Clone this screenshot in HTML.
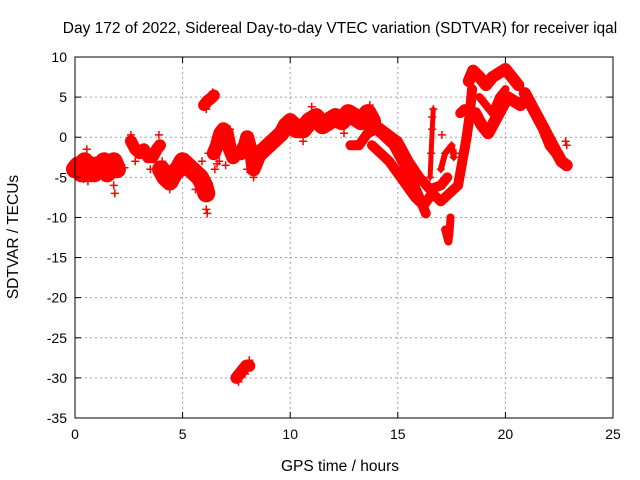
<!DOCTYPE html>
<html><head><meta charset="utf-8"><style>
body{margin:0;background:#fff}
svg{display:block;font-family:"Liberation Sans",sans-serif}
</style></head><body>
<svg id="chart" width="640" height="480">
<text x="340" y="33" font-size="15.5" text-anchor="middle">Day 172 of 2022, Sidereal Day-to-day VTEC variation (SDTVAR) for receiver iqal</text>
<text x="340" y="471" font-size="15.5" text-anchor="middle">GPS time / hours</text>
<text x="18" y="237" font-size="15.5" text-anchor="middle" transform="rotate(-90 18 237)">SDTVAR / TECUs</text>
<g id="grid"></g><g id="marks"></g><g id="axes"></g>
</svg>
<script>
const xTicks=[0,5,10,15,20,25];
const yTicks=[10,5,0,-5,-10,-15,-20,-25,-30,-35];
// segments: hours and values
const s1h=[0,0.15,0.3,0.45,0.6,0.75,0.9,1.05,1.2,1.35,1.5,1.65,1.8,1.95], s1v=[-4,-3.5,-4.5,-3,-4,-3.5,-4.5,-3.5,-4,-3,-4.5,-3.5,-3,-4];
const s2h=[2.6,2.8,3.0,3.2,3.4,3.6,3.8,3.95], s2v=[-0.5,-1.5,-2,-1.5,-2.5,-2.5,-1.5,-1];
const s3h=[4.0,4.2,4.4,4.6,4.8,5.0,5.2,5.4,5.6,5.8,6.0,6.1], s3v=[-4,-5,-5.5,-4.5,-4,-3,-3.5,-4,-4.5,-5,-6,-7];
const s4h=[6.0,6.15,6.3,6.45], s4v=[4,4.5,4.8,5.2];
const s5h=[6.45,6.6,6.75,6.9,7.05,7.2,7.35,7.5], s5v=[-2,-1,0.5,1,0.5,-1.5,-2.5,-2];
const s6h=[7.5,7.65,7.8,7.95,8.1], s6v=[-30,-29.5,-29,-28.5,-28.5];
const s7h=[7.7,7.9,8.0,8.2,8.3,8.45,8.6], s7v=[-2,-1,0,-2,-4,-3,-2];
const s8h=[8.6,8.8,9.0,9.2,9.4,9.6,9.8,10,10.2], s8v=[-2,-1.5,-1,-0.5,0,0.5,1.5,2,1.5];
const s9h=[10,10.3,10.6,10.9,11.2,11.5,11.8,12.1,12.4,12.7,13,13.3,13.6,13.8], s9v=[1.5,1,1,2,2.5,1.5,2,2.5,2,3,2.5,2,3,2];
const b1h=[12.8,13.2,13.6,14.0,14.4,14.8,15.2,15.6,16.0,16.3], b1v=[-1,-1,0.5,1,0,-1,-3,-5,-7.5,-9.5];
const b2h=[13.5,14,14.5,15,15.5,16,16.5,17,17.3], b2v=[2.5,1.5,0.5,-0.5,-3,-5,-6.5,-6,-5];
const b3h=[13.8,14.2,14.6,15,15.4,15.8,16.2,16.6,17,17.4,17.8], b3v=[-1,-2,-3,-4.5,-6,-7.5,-8.5,-7,-8,-7,-6];
const spH=[16.5,16.55,16.6,16.65], spV=[-5,-2,1,3.5];
const dipH=[17.2,17.3,17.35,17.4,17.45], dipV=[-11.5,-12.5,-13,-12,-10];
const colH=[17.0,17.2,17.5,17.6], colV=[-4,-2,-1,-2.5];
const riseH=[17.8,18.0,18.2,18.35,18.45], riseV=[-6,-3,0,3,6];
const upH=[18.3,18.5,18.8,19.1,19.4,19.7,20.0,20.3,20.6], upV=[7,8.3,7.5,6.5,7.5,8,8.5,7.5,6.5];
const loH=[18.6,18.9,19.2,19.5,19.8,20.1,20.4,20.7,21.0], loV=[3,1.5,0.5,2,3.5,5,4.5,4,5];
const midH=[18.8,19.1,19.4,19.7,20.0], midV=[5,4,3,5,6];
const blobH=[17.9,18.1,18.3], blobV=[3,3.5,3];
const r1H=[20.9,21.2,21.5,21.8,22.1,22.4,22.6,22.85], r1V=[5.5,4,2.5,1,-1,-2,-3,-3.5];
const r2H=[21.5,21.8,22.1,22.4], r2V=[3,1.5,0,-1.5];
const scH=[0.55,0.6,1.0,1.8,1.85,2.3,1.3,0.4,2.6,2.8,3.9,4.05,3.5,6.1,6.15,5.0,5.9,6.2,4.4,5.6,6.1,6.4,6.5,6.7,7.0,7.2,6.6,7.6,7.9,8.1,8.3,8.0,11.0,13.7,10.6,12.5,16.6,17.05,17.7,22.8,22.85];
const scV=[-1.5,-5.5,-5,-6,-7,-3.8,-5,-5.2,0.3,-3,0.3,-3,-4,-9,-9.5,-2.5,-3,-2,-6.5,-6.5,3.5,5.6,-4,-3,-3.5,1,-3.3,-30.5,-29.5,-27.8,-5,-4,3.8,4,-0.5,0.5,2.5,0.3,-2,-0.5,-1];
const series=[[s1h,s1v,18],[s2h,s2v,12],[s3h,s3v,18],[s4h,s4v,12],[s5h,s5v,14],[s6h,s6v,12],[s7h,s7v,14],[s8h,s8v,16],[s9h,s9v,18],[b1h,b1v,10],[b2h,b2v,10],[b3h,b3v,10],[spH,spV,5],[dipH,dipV,8],[colH,colV,6],[riseH,riseV,10],[upH,upV,12],[loH,loV,12],[midH,midV,8],[blobH,blobV,10],[r1H,r1V,12],[r2H,r2V,8]];
const X0=75,X1=613,Y0=57,Y1=418;
const xs=h=>X0+(h-0)/25*(X1-X0);
const ys=v=>Y0+(10-v)/45*(Y1-Y0);
const NS='http://www.w3.org/2000/svg';
function mk(t,a,p){const e=document.createElementNS(NS,t);for(const k in a)e.setAttribute(k,a[k]);p.appendChild(e);return e;}
const grid=document.getElementById('grid'),axes=document.getElementById('axes'),marks=document.getElementById('marks');
xTicks.forEach(t=>{const x=xs(t);
 if(t>0&&t<25){const g=mk('line',{x1:x,x2:x,y1:Y0,y2:Y1,stroke:'#a0a0a0','stroke-dasharray':'2,3'},grid);
 
 }
 mk('line',{x1:x,x2:x,y1:Y1,y2:Y1-6,stroke:'#000'},axes);mk('line',{x1:x,x2:x,y1:Y0,y2:Y0+6,stroke:'#000'},axes);
 const l=mk('text',{x:x,y:Y1+21,'font-size':14,'text-anchor':'middle'},axes);l.textContent=t;
 
 });
yTicks.forEach(t=>{const y=ys(t);
 if(t<10&&t>-35){const g=mk('line',{x1:X0,x2:X1,y1:y,y2:y,stroke:'#a0a0a0','stroke-dasharray':'2,3'},grid);
 
 }
 mk('line',{x1:X0,x2:X0+6,y1:y,y2:y,stroke:'#000'},axes);mk('line',{x1:X1,x2:X1-6,y1:y,y2:y,stroke:'#000'},axes);
 const l=mk('text',{x:X0-8,y:y+5,'font-size':14,'text-anchor':'end'},axes);l.textContent=t;
 
 });
const fr=mk('rect',{x:X0,y:Y0,width:X1-X0,height:Y1-Y0,fill:'none',stroke:'#000'},axes);


function plus(h,v){const x=xs(h),y=ys(v);
 const p=mk('path',{d:`M${x-4},${y}H${x+4}M${x},${y-4}V${y+4}`,stroke:'#f00','stroke-width':1.5},marks);
 
 }
series.forEach(([H,V,w])=>{
 const pl=mk('polyline',{points:H.map((h,i)=>xs(h)+','+ys(V[i])).join(' '),fill:'none',stroke:'#f00','stroke-width':w,'stroke-linejoin':'round','stroke-linecap':'round'},marks);
 
 
 H.forEach((h,i)=>plus(h,V[i]));});
scH.forEach((h,i)=>plus(h,scV[i]));
</script>
</body></html>
